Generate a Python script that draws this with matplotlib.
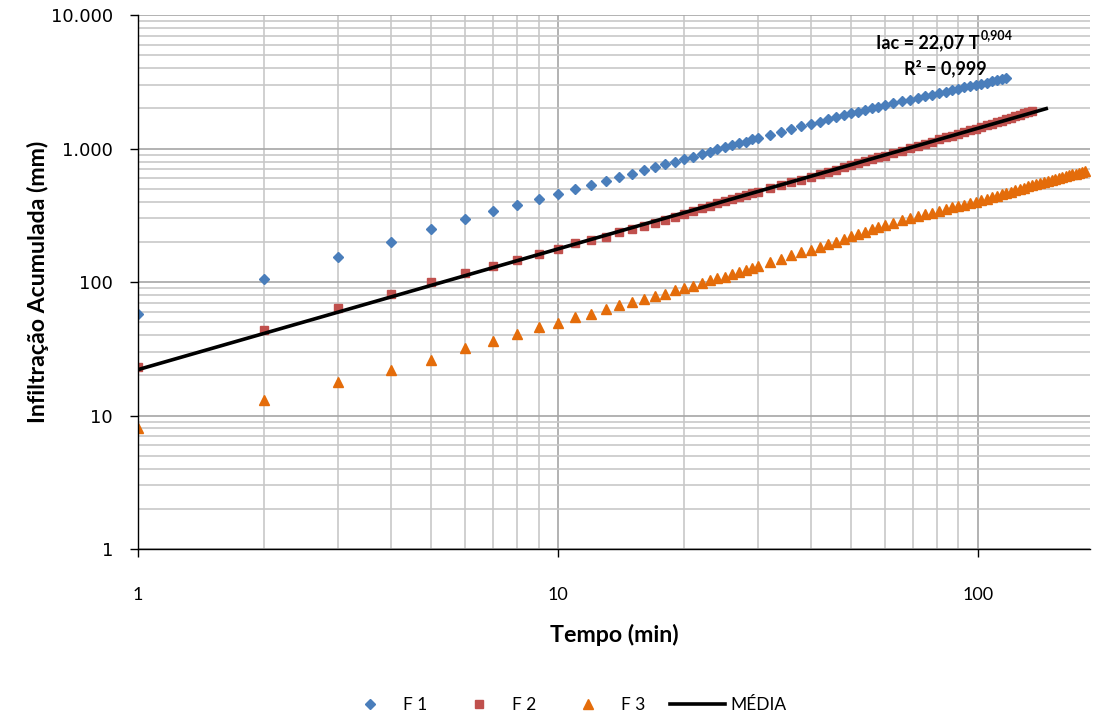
import numpy as np
import matplotlib
matplotlib.use('Agg')
import matplotlib.pyplot as plt
import matplotlib.ticker as ticker
from matplotlib.lines import Line2D

plt.rcParams['font.family'] = ['Lato', 'DejaVu Sans']

# Tempo das leituras (min)
t_all = list(range(1, 31)) + list(range(32, 61, 2)) + list(range(63, 181, 3))

# F 1 - ate 117 min
t_f1 = [t for t in t_all if t <= 117]
f1 = [58, 105, 155, 200, 250, 295, 340, 378, 418, 455,
      495, 533, 570, 610, 650, 688, 725, 762, 800, 840,
      870, 908, 948, 985, 1030, 1060, 1095, 1130, 1170, 1200,
      1265, 1330, 1395, 1465, 1535, 1595, 1655, 1715, 1775, 1835,
      1890, 1945, 2000, 2055, 2105,
      2180, 2255, 2325, 2400, 2470, 2540, 2610, 2675, 2745, 2810,
      2875, 2940, 3000, 3065, 3125, 3190, 3250, 3310, 3370]

# F 2 - ate 135 min
t_f2 = [t for t in t_all if t <= 135]
f2 = [23, 44, 64, 82, 100, 116, 131, 146, 162, 178,
      195, 207, 219, 237, 250, 264, 278, 292, 307, 323,
      340, 356, 371, 388, 403, 418, 432, 447, 462, 476,
      503, 530, 558, 586, 614, 641, 668, 696, 723, 750,
      777, 804, 831, 858, 885,
      926, 967, 1008, 1048, 1090, 1130, 1170, 1212, 1252, 1293,
      1334, 1374, 1414, 1455, 1497, 1538, 1580, 1622, 1665, 1708,
      1752, 1795, 1838, 1882, 1925]

# F 3 - ate 180 min
t_f3 = [t for t in t_all if t <= 180]
f3 = [8, 13, 17.8, 22, 26, 32, 36, 41, 46, 49.5,
      54.5, 58, 63, 67, 71, 74.5, 78, 82, 87, 90,
      93.5, 98, 103, 107, 110, 115, 119, 123, 127, 132,
      141, 150, 159, 167, 175, 182, 192, 201, 212, 222,
      230, 239, 249, 258, 267,
      278, 290, 302, 313, 323, 332, 342, 352, 362, 371,
      380, 389, 398, 409, 420, 431, 442, 453, 464, 475,
      487, 498, 509, 520, 531, 541, 552, 563, 574, 585,
      595, 604, 613, 622, 631, 640, 649, 658, 667, 676]

# MEDIA (ajuste potencial)
t_media = [1, 147]
media = [22.07, 2010]

fig = plt.figure(figsize=(11.02, 7.2), dpi=100)
ax = fig.add_axes([0.1252, 0.2375, 0.8638, 0.7415])

ax.plot(t_f1, f1, linestyle='none', marker='D', ms=5.2, color='#4A7EBB', label='F 1')
ax.plot(t_f2, f2, linestyle='none', marker='s', ms=6.2, color='#C0504D', label='F 2')
ax.plot(t_f3, f3, linestyle='none', marker='^', ms=7, color='#E46C0A', label='F 3')
ax.plot(t_media, media, color='black', lw=2.6, label='MÉDIA', solid_capstyle='butt')

ax.set_xscale('log')
ax.set_yscale('log')
ax.set_xlim(1, 185)
ax.set_ylim(1, 10000)

fmt = ticker.FuncFormatter(lambda v, p: f"{v:,.0f}".replace(',', '.'))
ax.xaxis.set_major_formatter(fmt)
ax.yaxis.set_major_formatter(fmt)
ax.xaxis.set_minor_formatter(ticker.NullFormatter())
ax.yaxis.set_minor_formatter(ticker.NullFormatter())
ax.xaxis.set_minor_locator(ticker.LogLocator(base=10, subs=np.arange(2, 10)))
ax.yaxis.set_minor_locator(ticker.LogLocator(base=10, subs=np.arange(2, 10)))

ax.grid(True, which='major', color='#A6A6A6', lw=1.2)
ax.grid(True, which='minor', color='#C8C8C8', lw=1.2)
ax.set_axisbelow(True)

ax.tick_params(axis='both', which='major', direction='out', length=6, width=1, labelsize=13, colors='black')
ax.tick_params(axis='x', which='major', pad=21)
ax.tick_params(axis='y', which='major', pad=12, labelsize=13)
ax.tick_params(axis='both', which='minor', length=0)
for lab in ax.get_yticklabels():
    lab.set_family('DejaVu Sans')

for side in ['top', 'right']:
    ax.spines[side].set_visible(False)
for side in ['left', 'bottom']:
    ax.spines[side].set_color('black')
    ax.spines[side].set_linewidth(1.0)

ax.set_xlabel('Tempo (min)', fontsize=16.7, fontweight='bold')
ax.set_ylabel('Infiltração Acumulada (mm)', fontsize=16.7, fontweight='bold')
ax.xaxis.set_label_coords(0.5, -0.14)
ax.yaxis.set_label_coords(-0.093, 0.5)

# equacao do ajuste
ax.text(0.884, 0.9476, 'Iac = 22,07 T', transform=ax.transAxes, ha='right', va='center',
        fontsize=13, fontweight='bold')
ax.text(0.885, 0.963, '0,904', transform=ax.transAxes, ha='left', va='center',
        fontsize=9, fontweight='bold')
ax.text(0.848, 0.9, 'R² = 0,999', transform=ax.transAxes, ha='center', va='center',
        fontsize=13, fontweight='bold')

handles = [
    Line2D([], [], linestyle='none', marker='D', ms=5.2, color='#4A7EBB'),
    Line2D([], [], linestyle='none', marker='s', ms=6.2, color='#C0504D'),
    Line2D([], [], linestyle='none', marker='^', ms=7, color='#E46C0A'),
    Line2D([], [], color='black', lw=2.6),
]
fig.legend(handles, ['F 1', 'F 2', 'F 3', 'MÉDIA'], loc='center', bbox_to_anchor=(0.512, 1 - 705 / 720),
           ncol=4, frameon=False, fontsize=12.5, handlelength=3.2, handletextpad=0.3, columnspacing=1.4)

plt.savefig('out.png', dpi=100)
